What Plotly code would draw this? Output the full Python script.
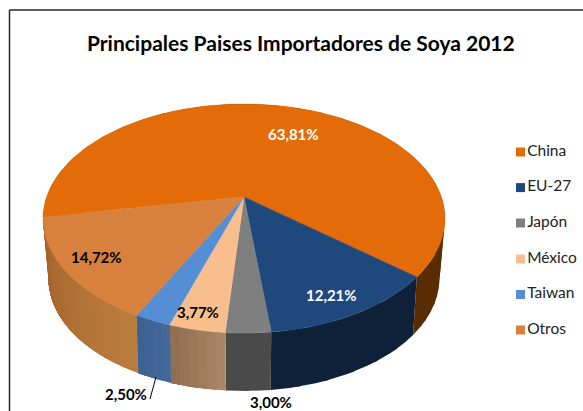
import numpy as np
import plotly.graph_objects as go

W, H = 583, 411
countries = ["China", "EU-27", "Japón", "México", "Taiwan", "Otros"]
shares = [63.81, 12.21, 3.00, 3.77, 2.50, 14.72]
share_labels = ["63,81%", "12,21%", "3,00%", "3,77%", "2,50%", "14,72%"]
title_text = "Principales Paises Importadores de Soya 2012"

top_colors = ["#E36C09", "#1F497D", "#7F7F7F", "#F8BE8D", "#558ED5", "#D8803D"]
side_from = ["#5A2C04", "#0F2138", "#4A4A4A", "#AA8766", "#44699A", "#BC7E3E"]
side_to = ["#5A2C04", "#0F2138", "#4A4A4A", "#8F6E4F", "#3A6193", "#A05F28"]
label_colors = ["white", "white", "black", "black", "black", "black"]
label_pos = [(293, 134), (331, 295), (271, 402), (198, 312), (126, 394), (96, 257)]
legend_x = 520.5
legend_y = [152, 187.6, 223, 259, 294.5, 330]

START = -100.1  # degrees clockwise from the back of the pie
TOP = dict(cx=244, cy=197, A=197.4, B=110.5, k=0.188)
BOT = dict(cx=244, cy=256, A=191.5, B=108, k=0.2)


def project(theta, plane, r=1.0):
    t = np.radians(theta)
    u, v = r * np.sin(t), -r * np.cos(t)
    d = 1 - plane["k"] * v
    return plane["cx"] + plane["A"] * u / d, plane["cy"] + plane["B"] * v / d


def hex2rgb(c):
    return np.array([int(c[i:i + 2], 16) for i in (1, 3, 5)], float)


def mix(a, b, f):
    r = hex2rgb(a) * (1 - f) + hex2rgb(b) * f
    return "rgb(%d,%d,%d)" % tuple(r.round())


fig = go.Figure()
edges = START + np.cumsum([0] + shares) * 3.6

# sides, drawn first: strips overlap so that the next one paints over the seam
for i in range(len(shares)):
    a0, a1 = edges[i], edges[i + 1]
    solid = side_from[i] == side_to[i]
    n = int(np.ceil((a1 - a0) / 8)) if solid else max(2, int((a1 - a0) / 2))
    steps = np.linspace(a0, a1, n + 1)
    for j in range(n):
        end = min(steps[j + 1] + 1, a1) if solid else a1
        th = np.linspace(steps[j], end, 30)
        xt, yt = project(th, TOP)
        xb, yb = project(th, BOT)
        xs = np.r_[xt, xb[::-1], xt[0]]
        ys = np.r_[yt, yb[::-1], yt[0]]
        col = mix(side_from[i], side_to[i], (j + 0.5) / n)
        fig.add_trace(go.Scatter(x=xs, y=ys, mode="lines", fill="toself", fillcolor=col,
                                 line=dict(width=0), showlegend=False, hoverinfo="skip"))

# top face
for i in range(len(shares)):
    th = np.linspace(edges[i], edges[i + 1], 120)
    x, y = project(th, TOP)
    xs = np.r_[TOP["cx"], x, TOP["cx"]]
    ys = np.r_[TOP["cy"], y, TOP["cy"]]
    fig.add_trace(go.Scatter(x=xs, y=ys, mode="lines", fill="toself", fillcolor=top_colors[i],
                             line=dict(color=top_colors[i], width=0.5), showlegend=False, hoverinfo="skip"))

# legend column
fig.add_trace(go.Scatter(
    x=[legend_x] * len(countries), y=legend_y, mode="markers+text", text=countries,
    textposition="middle right", textfont=dict(family="Lato", size=15.5, color="#222222"),
    marker=dict(symbol="square", size=9, color=top_colors), showlegend=False, hoverinfo="skip"))

# data labels
for i, t in enumerate(share_labels):
    fig.add_annotation(x=label_pos[i][0], y=label_pos[i][1], text="<b>%s</b>" % t, showarrow=False,
                       font=dict(family="Lato", size=15, color=label_colors[i]))

# leader line of the Taiwan label
fig.add_shape(type="line", x0=156, y0=377, x1=150, y1=399, line=dict(color="black", width=1), layer="above")
# chart frame
fig.add_shape(type="line", x0=9.5, y0=H, x1=9.5, y1=10, line=dict(color="#262626", width=1.5), layer="above")
fig.add_shape(type="line", x0=9.5, y0=10, x1=W, y1=10, line=dict(color="#262626", width=1.5), layer="above")

fig.update_layout(
    width=W, height=H, margin=dict(l=0, r=0, t=0, b=0, autoexpand=False), autosize=False,
    paper_bgcolor="white", plot_bgcolor="white",
    title=dict(text="<b>%s</b>" % title_text, x=0.516, y=0.895, yref="paper", xanchor="center", yanchor="middle",
               font=dict(family="Lato", size=21, color="black")),
    xaxis=dict(range=[0, W], visible=False, fixedrange=True),
    yaxis=dict(range=[H, 0], visible=False, fixedrange=True),
    showlegend=False,
)
fig.write_html("out.html", config=dict(displayModeBar=False),
               post_script="document.body.style.margin='0';document.body.style.overflow='hidden';")
